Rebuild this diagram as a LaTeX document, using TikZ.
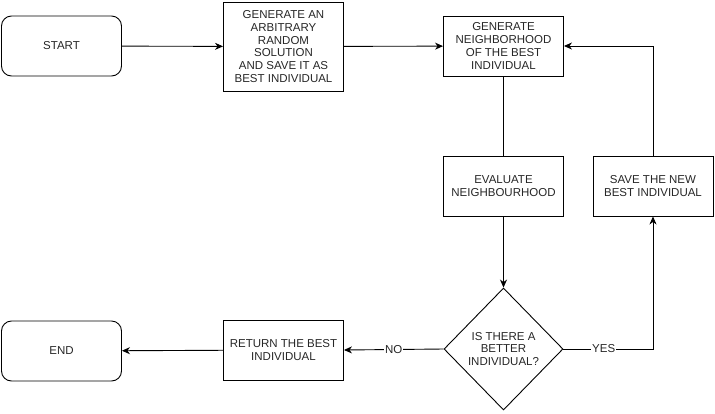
\documentclass[tikz,border=0pt]{standalone}
\usepackage{fontspec}
\setmainfont{Liberation Sans}
\usetikzlibrary{shapes.geometric,arrows.meta}
\begin{document}
\begin{tikzpicture}[x=1pt,y=-1pt,
  box/.style={draw,line width=0.9pt,minimum width=120pt,minimum height=60pt,inner sep=0pt,align=center,font=\fontsize{11.5}{12.7}\selectfont,text=black!85},
  term/.style={box,rounded corners=10pt},
  dec/.style={draw,line width=0.9pt,diamond,minimum width=119pt,minimum height=122pt,inner sep=0pt,align=center,font=\fontsize{11.5}{12.7}\selectfont,text=black!85},
  conn/.style={line width=0.9pt,-{Stealth[length=8pt,width=7pt,inset=2.5pt]}},
  lbl/.style={fill=white,inner sep=1pt,font=\fontsize{11.5}{12}\selectfont,text=black!85}]
\useasboundingbox (0,0) rectangle (715,413);
\node[term] (start) at (61.5,46) {START};
\node[box,minimum height=89pt] (gen) at (283.5,46.5) {GENERATE AN\\ARBITRARY\\RANDOM\\SOLUTION\\AND SAVE IT AS\\BEST INDIVIDUAL};
\node[box] (nb) at (503.5,46) {GENERATE\\NEIGHBORHOOD\\OF THE BEST\\INDIVIDUAL};
\node[box] (eval) at (503.5,186) {EVALUATE\\NEIGHBOURHOOD};
\node[box] (save) at (653,186) {SAVE THE NEW\\BEST INDIVIDUAL};
\node[dec] (q) at (503.5,349) {IS THERE A\\BETTER\\INDIVIDUAL?};
\node[box] (ret) at (283.5,350) {RETURN THE BEST\\INDIVIDUAL};
\node[term] (end) at (61.5,351) {END};
\coordinate (qr) at (653,349);
\coordinate (sr) at (653,46);
\draw[conn] (start) -- (gen);
\draw[conn] (gen) -- (nb);
\draw[line width=0.9pt] (nb) -- (eval);
\draw[conn] (eval) -- (q);
\draw[conn] (q.east) -- node[lbl,pos=0.45]{YES} (qr) -- (save.south);
\draw[conn] (save.north) -- (sr) -- (nb.east);
\draw[conn] (q.west) -- node[lbl,pos=0.5]{NO} (ret.east);
\draw[conn] (ret) -- (end);
\end{tikzpicture}
\end{document}
